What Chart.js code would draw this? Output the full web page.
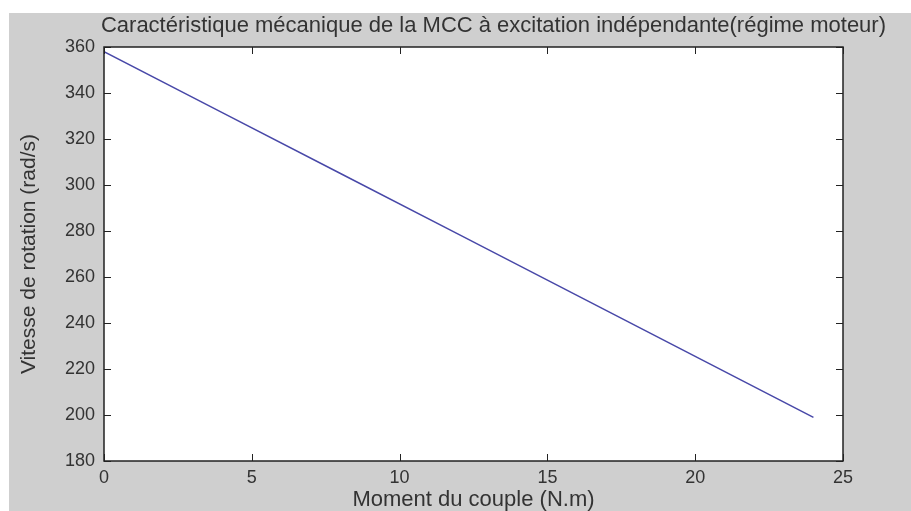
<!DOCTYPE html>
<html>
<head>
<meta charset="utf-8">
<script src="https://cdn.jsdelivr.net/npm/chart.js@4"></script>
<style>
  body { margin: 0; background: #ffffff; }
  #wrap { width: 911px; height: 511px; }
</style>
</head>
<body>
<div id="wrap"><canvas id="myChart" width="911" height="511"></canvas></div>
<script>
// valeurs
var couple = [0, 4, 8, 12, 16, 20, 24];
var vitesse = [358, 331.5, 305, 278.5, 252, 225.5, 199];
var xTicks = [0, 5, 10, 15, 20, 25];
var yTicks = [180, 200, 220, 240, 260, 280, 300, 320, 340, 360];

var points = couple.map(function(c, i) { return {x: c, y: vitesse[i]}; });

// fond gris type matlab + cadre + graduations interieures
var matlabFond = {
    id: 'matlabFond',
    beforeDraw: function(chart) {
        var ctx = chart.ctx;
        var a = chart.chartArea;
        ctx.save();
        ctx.fillStyle = '#cfcfcf';
        ctx.fillRect(9, 13, chart.width - 9, chart.height - 13);
        ctx.fillStyle = '#ffffff';
        ctx.fillRect(a.left, a.top, a.right - a.left, a.bottom - a.top);
        ctx.restore();
    },
    afterDatasetsDraw: function(chart) {
        var ctx = chart.ctx;
        var a = chart.chartArea;
        var sx = chart.scales.x, sy = chart.scales.y;
        ctx.save();
        ctx.strokeStyle = '#222222';
        ctx.lineWidth = 1.5;
        ctx.strokeRect(a.left, a.top, a.right - a.left, a.bottom - a.top);
        ctx.lineWidth = 1;
        ctx.beginPath();
        xTicks.forEach(function(v) {
            var px = Math.round(sx.getPixelForValue(v)) + 0.5;
            ctx.moveTo(px, a.bottom); ctx.lineTo(px, a.bottom - 7);
            ctx.moveTo(px, a.top); ctx.lineTo(px, a.top + 7);
        });
        yTicks.forEach(function(v) {
            var py = Math.round(sy.getPixelForValue(v)) + 0.5;
            ctx.moveTo(a.left, py); ctx.lineTo(a.left + 7, py);
            ctx.moveTo(a.right, py); ctx.lineTo(a.right - 7, py);
        });
        ctx.stroke();
        ctx.restore();
    }
};

var ctx = document.getElementById('myChart').getContext('2d');
var chart = new Chart(ctx, {
    type: 'line',
    data: {
        datasets: [{
            label: 'vitesse',
            data: points,
            borderColor: '#4848a8',
            borderWidth: 1.5,
            pointRadius: 0,
            fill: false,
            tension: 0
        }]
    },
    options: {
        responsive: false,
        animation: false,
        layout: { padding: { left: 9, top: 13, right: 25, bottom: 0 } },
        plugins: {
            legend: { display: false },
            tooltip: { enabled: false },
            title: {
                display: true,
                align: 'end',
                text: 'Caractéristique mécanique de la MCC à excitation indépendante(régime moteur)',
                color: '#333333',
                font: { family: 'Liberation Sans', size: 22, weight: 'normal' },
                padding: { top: 0, bottom: 7.6 }
            }
        },
        scales: {
            x: {
                type: 'linear',
                min: 0,
                max: 25,
                afterFit: function(s) { s.height = 50; },
                afterBuildTicks: function(s) { s.ticks = xTicks.map(function(v) { return {value: v}; }); },
                grid: { display: false, drawTicks: false },
                border: { display: false },
                ticks: { color: '#333333', padding: 6, font: { family: 'Liberation Sans', size: 18 }, maxRotation: 0 },
                title: {
                    display: true,
                    text: 'Moment du couple (N.m)',
                    color: '#333333',
                    font: { family: 'Liberation Sans', size: 22 },
                    padding: { top: 0, bottom: -2 }
                }
            },
            y: {
                type: 'linear',
                min: 180,
                max: 360,
                afterFit: function(s) { s.width = 95; },
                afterBuildTicks: function(s) { s.ticks = yTicks.map(function(v) { return {value: v}; }); },
                grid: { display: false, drawTicks: false },
                border: { display: false },
                ticks: { color: '#333333', padding: 9, font: { family: 'Liberation Sans', size: 18 } },
                title: {
                    display: true,
                    text: 'Vitesse de rotation (rad/s)',
                    color: '#333333',
                    font: { family: 'Liberation Sans', size: 21 },
                    padding: { top: 8, bottom: 0 }
                }
            },
            // axe vide a droite juste pour la marge
            y2: {
                position: 'right',
                display: true,
                afterFit: function(s) { s.width = 43; },
                grid: { display: false, drawTicks: false },
                border: { display: false },
                ticks: { display: false }
            }
        }
    },
    plugins: [matlabFond]
});
</script>
</body>
</html>
